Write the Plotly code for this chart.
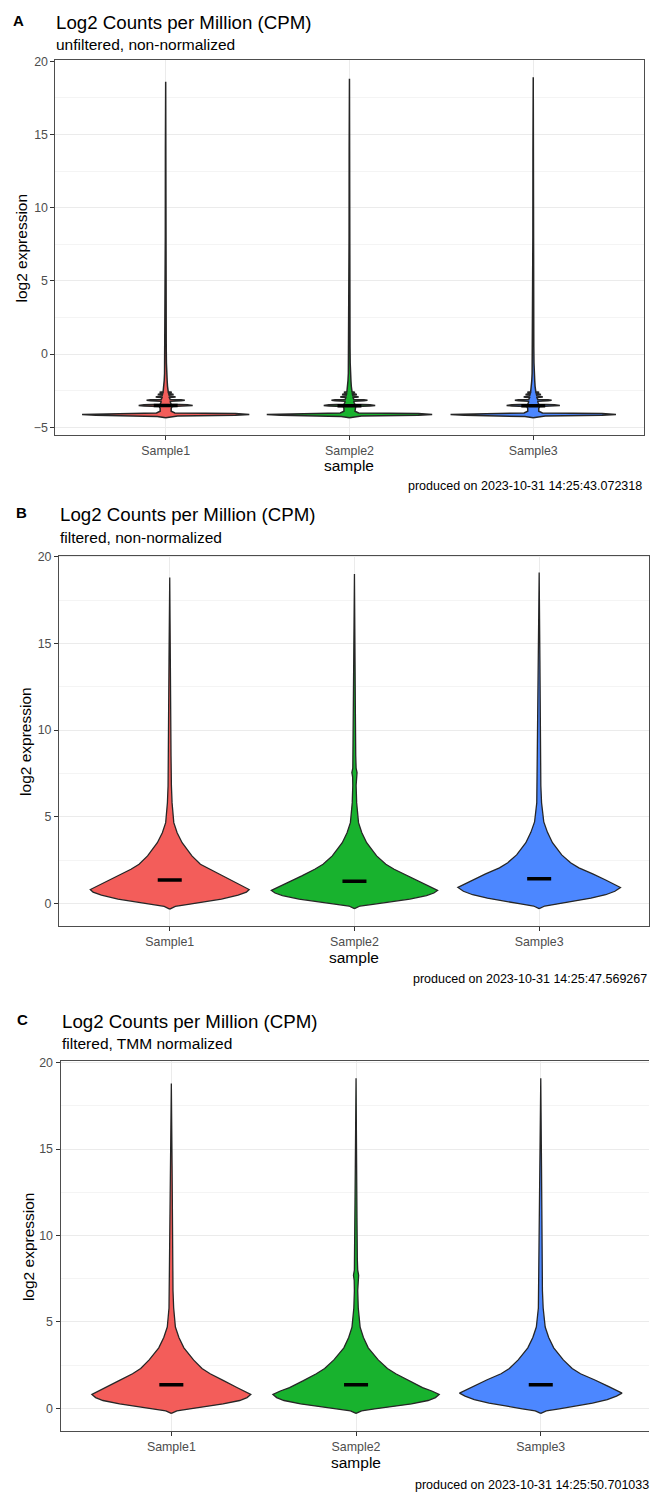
import plotly.graph_objects as go

W, H = 650, 1493

samples = ["Sample1", "Sample2", "Sample3"]
colors = ["#F35D5A", "#18B22E", "#4C87FF"]

# ---------------- Panel A: unfiltered, non-normalized (violin half-width profiles) ----------------
a_y = [-4.35, -4.26, -4.22, -4.18, -4.12, -4.06, -4.02, -3.9, -3.7, -3.57, -3.535, -3.5, -3.465,
       -3.43, -3.3, -3.21, -3.18, -3.15, -3.12, -3.09, -2.97, -2.945, -2.92, -2.895, -2.87, -2.79,
       -2.77, -2.75, -2.73, -2.71, -2.65, -2.63, -2.61, -2.59, -2.57, -2.45, -2.2, -1.8, -1.3, -0.6,
       0.5, 3, 8, 14]
a1_w = [0, 0.045, 0.065, 0.38, 0.455, 0.38, 0.05, 0.03, 0.03, 0.035, 0.118, 0.147, 0.118,
        0.03, 0.026, 0.025, 0.083, 0.104, 0.083, 0.024, 0.02, 0.043, 0.054, 0.043, 0.02, 0.018,
        0.034, 0.043, 0.034, 0.017, 0.015, 0.026, 0.033, 0.026, 0.014, 0.012, 0.01, 0.008, 0.006, 0.004,
        0.003, 0.0025, 0.002, 0.0015]
a2_w = [0, 0.045, 0.065, 0.375, 0.45, 0.375, 0.05, 0.03, 0.03, 0.034, 0.112, 0.14, 0.112,
        0.03, 0.025, 0.024, 0.078, 0.098, 0.078, 0.023, 0.02, 0.04, 0.05, 0.04, 0.019, 0.017,
        0.032, 0.04, 0.032, 0.016, 0.015, 0.024, 0.03, 0.024, 0.014, 0.012, 0.01, 0.008, 0.006, 0.004,
        0.003, 0.0025, 0.002, 0.0015]
a3_w = [0, 0.045, 0.065, 0.375, 0.45, 0.375, 0.05, 0.03, 0.03, 0.035, 0.116, 0.145, 0.116,
        0.03, 0.026, 0.025, 0.08, 0.1, 0.08, 0.024, 0.02, 0.042, 0.052, 0.042, 0.02, 0.018,
        0.033, 0.042, 0.033, 0.017, 0.015, 0.025, 0.032, 0.025, 0.014, 0.012, 0.01, 0.008, 0.006, 0.004,
        0.003, 0.0025, 0.002, 0.0015]
a_top = [18.6, 18.8, 18.9]
a_median = [-3.5, -3.52, -3.52]

# ---------------- Panel B: filtered, non-normalized ----------------
b1_y = [-0.33, -0.17, -0.06, 0.1, 0.25, 0.48, 0.65, 0.8, 1.02, 1.2, 1.59, 1.97, 2.26, 2.74, 3.5, 4.08, 4.66, 5.8, 6.8, 8.5, 11, 14, 18.8]
b1_w = [0, 0.03, 0.1, 0.19, 0.28, 0.37, 0.415, 0.43, 0.39, 0.355, 0.283, 0.21, 0.166, 0.12, 0.067, 0.04, 0.022, 0.0126, 0.009, 0.007, 0.005, 0.004, 0]
b2_y = [-0.3, -0.15, -0.05, 0.1, 0.25, 0.45, 0.6, 0.75, 0.95, 1.2, 1.59, 1.97, 2.26, 2.74, 3.5, 4.08, 4.66, 5.8, 6.8, 7.3, 7.55, 7.8, 8.5, 11, 14, 19.0]
b2_w = [0, 0.03, 0.1, 0.2, 0.3, 0.39, 0.43, 0.45, 0.41, 0.36, 0.285, 0.215, 0.17, 0.12, 0.066, 0.04, 0.022, 0.012, 0.009, 0.01, 0.014, 0.009, 0.007, 0.005, 0.004, 0]
b3_y = [-0.3, -0.15, -0.03, 0.12, 0.3, 0.5, 0.7, 0.92, 1.15, 1.35, 1.7, 2.05, 2.35, 2.8, 3.5, 4.1, 4.7, 5.8, 6.8, 8.5, 11, 14, 19.1]
b3_w = [0, 0.03, 0.1, 0.19, 0.28, 0.36, 0.41, 0.44, 0.4, 0.36, 0.29, 0.215, 0.17, 0.122, 0.072, 0.045, 0.025, 0.013, 0.009, 0.007, 0.005, 0.004, 0]
b_median = [1.35, 1.28, 1.42]

# ---------------- Panel C: filtered, TMM normalized ----------------
c1_y = [-0.3, -0.15, -0.04, 0.1, 0.25, 0.45, 0.62, 0.8, 1.0, 1.2, 1.6, 2.0, 2.3, 2.8, 3.5, 4.1, 4.7, 5.8, 6.8, 8.5, 11, 14, 18.8]
c1_w = [0, 0.03, 0.1, 0.19, 0.28, 0.37, 0.41, 0.43, 0.39, 0.355, 0.283, 0.21, 0.166, 0.12, 0.068, 0.041, 0.022, 0.0126, 0.009, 0.007, 0.005, 0.004, 0]
c2_y = [-0.3, -0.15, -0.04, 0.1, 0.25, 0.45, 0.62, 0.8, 1.0, 1.2, 1.6, 2.0, 2.3, 2.8, 3.5, 4.1, 4.7, 5.8, 6.8, 7.4, 7.7, 8.0, 8.6, 11, 14, 19.1]
c2_w = [0, 0.03, 0.1, 0.2, 0.3, 0.39, 0.43, 0.45, 0.41, 0.36, 0.285, 0.215, 0.17, 0.12, 0.066, 0.04, 0.022, 0.012, 0.009, 0.01, 0.014, 0.009, 0.007, 0.005, 0.004, 0]
c3_y = [-0.3, -0.15, -0.03, 0.12, 0.3, 0.5, 0.7, 0.88, 1.1, 1.3, 1.65, 2.0, 2.3, 2.8, 3.5, 4.1, 4.7, 5.8, 6.8, 8.5, 11, 14, 19.1]
c3_w = [0, 0.03, 0.1, 0.19, 0.28, 0.36, 0.41, 0.44, 0.4, 0.36, 0.29, 0.215, 0.17, 0.122, 0.07, 0.043, 0.024, 0.013, 0.009, 0.007, 0.005, 0.004, 0]
c_median = [1.36, 1.36, 1.36]

panel_labels = ["A", "B", "C"]
titles = ["Log2 Counts per Million (CPM)"] * 3
subtitles = ["unfiltered, non-normalized", "filtered, non-normalized", "filtered, TMM normalized"]
captions = ["produced on 2023-10-31 14:25:43.072318",
            "produced on 2023-10-31 14:25:47.569267",
            "produced on 2023-10-31 14:25:50.701033"]
y_ticks = [-5, 0, 5, 10, 15, 20]
y_minor = [-2.5, 2.5, 7.5, 12.5, 17.5]
x_title = "sample"
y_title = "log2 expression"

profiles = [
    [(a_y + [a_top[0]], a1_w + [0]), (a_y + [a_top[1]], a2_w + [0]), (a_y + [a_top[2]], a3_w + [0])],
    [(b1_y, b1_w), (b2_y, b2_w), (b3_y, b3_w)],
    [(c1_y, c1_w), (c2_y, c2_w), (c3_y, c3_w)],
]
medians = [a_median, b_median, c_median]
outline_w = [1.5, 1.3, 1.3]
for row in profiles:
    for ys, ws in row:
        assert len(ys) == len(ws)

# ---------------- layout geometry (pixels) ----------------
geo = [
    dict(l=55.5, r=644.5, t=54.6, b=430.4, xr=[0.4, 3.6], yr=[-5.5, 20.06],
         lab=(19, 15), title_y=17, sub_y=38.5, ytit_x=22, xtit_y=461, cap_y=481.5, cap_r=645, mirror_y=True),
    dict(l=59, r=650, t=551.8, b=924, xr=[0.4, 0.4 + (650 - 59) / 185.0], yr=[-1.32, 20.07],
         lab=(22, 509), title_y=511, sub_y=534, ytit_x=26, xtit_y=955, cap_y=977, cap_r=650, mirror_y=True),
    dict(l=60.6, r=650, t=1059.3, b=1431, xr=[0.4, 0.4 + (650 - 60.6) / 185.0], yr=[-1.33, 20.1],
         lab=(23, 1018), title_y=1020, sub_y=1042, ytit_x=28, xtit_y=1462.5, cap_y=1485, cap_r=652.5, mirror_y=False),
]

FONT = "Liberation Sans, Arial, Helvetica, sans-serif"
fig = go.Figure()

for p in range(3):
    xa = "x" if p == 0 else f"x{p+1}"
    ya = "y" if p == 0 else f"y{p+1}"
    for i in range(3):
        ys, ws = profiles[p][i]
        c = i + 1
        xs = [c + w for w in ws] + [c - w for w in reversed(ws)]
        yy = list(ys) + list(reversed(ys))
        xs.append(xs[0]); yy.append(yy[0])
        fig.add_trace(go.Scatter(x=xs, y=yy, mode="lines", fill="toself",
                                 fillcolor=colors[i], line=dict(color="#262626", width=outline_w[p]),
                                 xaxis=xa, yaxis=ya, hoverinfo="skip", showlegend=False))
    for i in range(3):
        c = i + 1
        m = medians[p][i]
        fig.add_trace(go.Scatter(x=[c - 0.065, c + 0.065], y=[m, m], mode="lines",
                                 line=dict(color="black", width=3.5),
                                 xaxis=xa, yaxis=ya, hoverinfo="skip", showlegend=False))

layout = dict(width=W, height=H, margin=dict(l=0, r=0, t=0, b=0),
              paper_bgcolor="white", plot_bgcolor="white", showlegend=False,
              font=dict(family=FONT, color="black"))


def px(x):
    return x / W


def py(y):
    return 1 - y / H


annotations = []
for p in range(3):
    g = geo[p]
    xk = "xaxis" if p == 0 else f"xaxis{p+1}"
    yk = "yaxis" if p == 0 else f"yaxis{p+1}"
    yname = "y" if p == 0 else f"y{p+1}"
    xname = "x" if p == 0 else f"x{p+1}"
    layout[xk] = dict(domain=[g["l"] / W, g["r"] / W], range=g["xr"], anchor=yname,
                      tickvals=[1, 2, 3], ticktext=samples, showgrid=True, gridcolor="#EBEBEB",
                      gridwidth=1, zeroline=False, showline=True, linecolor="#4D4D4D", linewidth=1,
                      mirror=True, ticks="outside", ticklen=4, tickcolor="#333333", tickwidth=1,
                      tickfont=dict(size=12.4, color="#4D4D4D", family=FONT), fixedrange=True)
    layout[yk] = dict(domain=[1 - g["b"] / H, 1 - g["t"] / H], range=g["yr"], anchor=xname,
                      tickvals=y_ticks, showgrid=True, gridcolor="#EBEBEB", gridwidth=1,
                      minor=dict(tickvals=y_minor, showgrid=True,
                                 gridcolor="#F4F4F4", gridwidth=1, ticks=""),
                      zeroline=False, showline=True, linecolor="#4D4D4D", linewidth=1,
                      mirror=g["mirror_y"], ticks="outside", ticklen=4, tickcolor="#333333", tickwidth=1,
                      tickfont=dict(size=12.4, color="#4D4D4D", family=FONT), fixedrange=True)

    annotations.append(dict(text=f"<b>{panel_labels[p]}</b>", x=px(g["lab"][0]), y=py(g["lab"][1]),
                            xref="paper", yref="paper", xanchor="center", yanchor="middle",
                            showarrow=False, font=dict(size=15, color="black", family=FONT)))
    annotations.append(dict(text=titles[p], x=px(g["l"] - 1), y=py(g["title_y"]),
                            xref="paper", yref="paper", xanchor="left", yanchor="middle",
                            showarrow=False, font=dict(size=18.7, color="black", family=FONT)))
    annotations.append(dict(text=subtitles[p], x=px(g["l"] - 1), y=py(g["sub_y"]),
                            xref="paper", yref="paper", xanchor="left", yanchor="middle",
                            showarrow=False, font=dict(size=15.5, color="black", family=FONT)))
    annotations.append(dict(text=y_title, x=px(g["ytit_x"]), y=py((g["t"] + g["b"]) / 2),
                            xref="paper", yref="paper", xanchor="center", yanchor="middle",
                            textangle=-90, showarrow=False, font=dict(size=15.5, color="black", family=FONT)))
    xmid = (2 - g["xr"][0]) / (g["xr"][1] - g["xr"][0]) * (g["r"] - g["l"]) + g["l"]
    annotations.append(dict(text=x_title, x=px(xmid), y=py(g["xtit_y"]),
                            xref="paper", yref="paper", xanchor="center", yanchor="middle",
                            showarrow=False, font=dict(size=15.5, color="black", family=FONT)))
    annotations.append(dict(text=captions[p], x=px(g["cap_r"]), y=py(g["cap_y"]),
                            xref="paper", yref="paper", xanchor="right", yanchor="middle",
                            showarrow=False, font=dict(size=12.5, color="black", family=FONT)))

layout["annotations"] = annotations
fig.update_layout(**layout)
fig.write_html("out.html")
